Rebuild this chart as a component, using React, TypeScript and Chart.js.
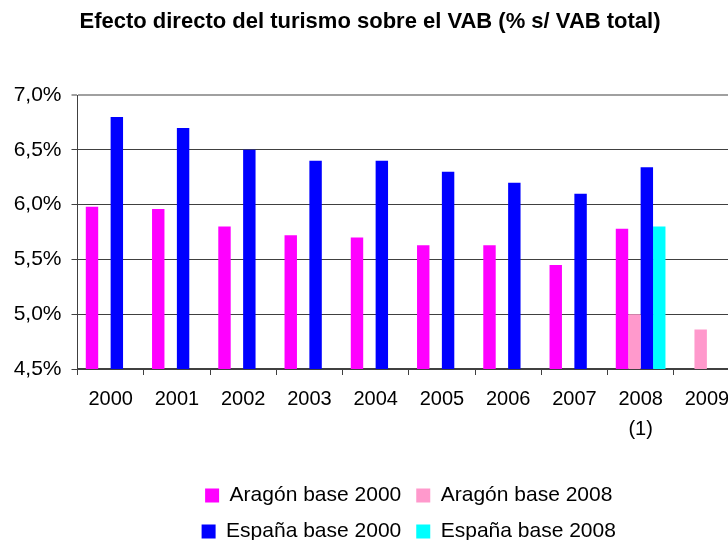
import React, { useEffect, useRef } from "react";
import { Chart, registerables } from "chart.js";

Chart.register(...registerables);

const categories: (string | string[])[] = ["2000", "2001", "2002", "2003", "2004", "2005", "2006", "2007", ["2008", "(1)"], "2009"];
const aragonBase2000 = [5.98, 5.96, 5.8, 5.72, 5.7, 5.63, 5.63, 5.45, 5.78, null];
const aragonBase2008 = [null, null, null, null, null, null, null, null, 5.0, 4.86];
const espanaBase2000 = [6.8, 6.7, 6.5, 6.4, 6.4, 6.3, 6.2, 6.1, 6.34, null];
const espanaBase2008 = [null, null, null, null, null, null, null, null, 5.8, null];
const yMin = 4.5;
const yMax = 7.0;
const yStep = 0.5;
const titleText = "Efecto directo del turismo sobre el VAB (% s/ VAB total)";

const FONT = "'Liberation Sans', Arial, Helvetica, sans-serif";

// Lets the bottom legend wrap its items two per row, as in the reference.
const legendWrap = {
  id: "legendWrap",
  beforeLayout(chart: any) {
    const lg = chart.legend;
    if (lg && !lg.__wrapped) {
      const orig = lg.update.bind(lg);
      lg.update = (w: number, h: number, m: any) => orig(Math.min(w, 500), h, m);
      lg.__wrapped = true;
    }
  },
};

export default function App() {
  const ref = useRef<HTMLCanvasElement | null>(null);

  useEffect(() => {
    if (!ref.current) return;
    const chart = new Chart(ref.current, {
      type: "bar",
      data: {
        labels: categories as any,
        datasets: [
          { label: "Aragón base 2000", data: aragonBase2000 as any, backgroundColor: "#FF00FF", borderWidth: 0 },
          { label: "Aragón base 2008", data: aragonBase2008 as any, backgroundColor: "#FF99CC", borderWidth: 0 },
          { label: "España base 2000", data: espanaBase2000 as any, backgroundColor: "#0000FF", borderWidth: 0 },
          { label: "España base 2008", data: espanaBase2008 as any, backgroundColor: "#00FFFF", borderWidth: 0 },
        ],
      },
      options: {
        responsive: false,
        animation: false,
        devicePixelRatio: 1,
        datasets: { bar: { categoryPercentage: 0.75, barPercentage: 1.0 } },
        layout: { padding: { left: 0, right: 20, top: 0, bottom: 0 } },
        plugins: {
          tooltip: { enabled: false },
          title: {
            display: true,
            text: titleText,
            color: "#000",
            font: { family: FONT, size: 22, weight: "bold", lineHeight: 1.2 },
            padding: { top: 8.8, bottom: 59.8 },
          },
          legend: {
            position: "bottom",
            fullSize: false,
            labels: {
              color: "#000",
              boxWidth: 14,
              boxHeight: 14,
              padding: 15,
              font: { family: FONT, size: 21 },
            },
          },
        },
        scales: {
          x: {
            grid: { offset: true, drawOnChartArea: false, drawTicks: true, tickLength: 6, color: "#404040" },
            border: { color: "#404040", width: 2 },
            ticks: {
              color: "#000",
              font: { family: FONT, size: 20, lineHeight: 1.5 },
              padding: 9.5,
              maxRotation: 0,
              autoSkip: false,
            },
            afterFit: (s: any) => {
              s.height = 101;
            },
          },
          y: {
            min: yMin,
            max: yMax,
            ticks: {
              stepSize: yStep,
              color: "#000",
              font: { family: FONT, size: 21 },
              padding: 10,
              callback: (v: any) => Number(v).toFixed(1).replace(".", ",") + "%",
            },
            grid: {
              tickLength: 6,
              color: (ctx: any) => (ctx.tick && Math.abs(ctx.tick.value - yMax) < 1e-9 ? "#a0a0a0" : "#404040"),
              lineWidth: (ctx: any) => (ctx.tick && Math.abs(ctx.tick.value - yMax) < 1e-9 ? 2 : 1),
            },
            border: { color: "#404040", width: 1 },
            afterFit: (s: any) => {
              s.width = 77.5;
            },
          },
        },
      },
      plugins: [legendWrap],
    });
    return () => chart.destroy();
  }, []);

  return (
    <div style={{ position: "fixed", left: 0, top: 0, width: 728, height: 540, overflow: "hidden", background: "#fff" }}>
      <canvas ref={ref} width={760} height={552} style={{ display: "block" }} />
    </div>
  );
}
